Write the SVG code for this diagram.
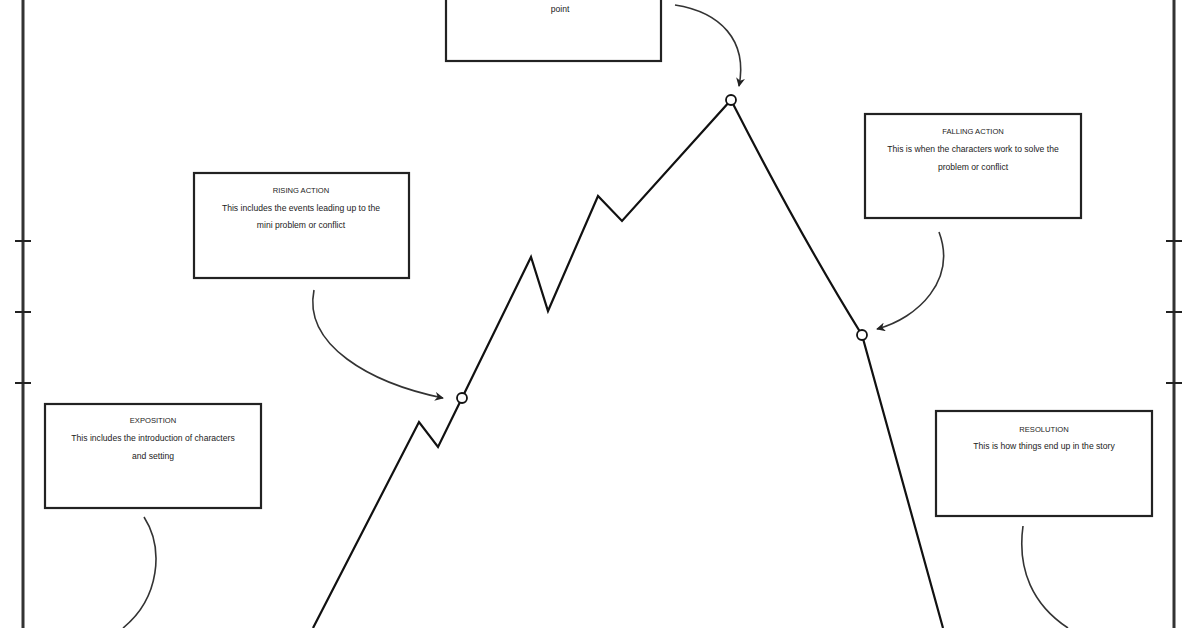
<svg xmlns="http://www.w3.org/2000/svg" width="1196" height="628" viewBox="0 0 1196 628">
<style>
.box{fill:#fff;stroke:#222;stroke-width:2.2}
.t{font-family:"Liberation Sans",Arial,sans-serif;font-size:8.6px;fill:#222;text-anchor:middle}
.h{font-family:"Liberation Sans",Arial,sans-serif;font-size:7.6px;fill:#222;text-anchor:middle}
.axis{stroke:#333;stroke-width:3;fill:none}
.tick{stroke:#222;stroke-width:2}
.plot{fill:none;stroke:#111;stroke-width:2.2;stroke-linejoin:miter}
.pt{fill:#fff;stroke:#111;stroke-width:1.8}
.con{fill:none;stroke:#333;stroke-width:1.6}
</style>
<defs>
<marker id="ah" viewBox="0 0 10 10" refX="9" refY="5" markerWidth="9" markerHeight="9" orient="auto" markerUnits="userSpaceOnUse">
<path d="M0,0 L10,5 L0,10 L3,5 Z" fill="#222"/>
</marker>
</defs>
<rect width="1196" height="628" fill="#fff"/>
<g id="axes">
<line class="axis" x1="23" y1="0" x2="23" y2="628"/>
<line class="axis" x1="1174" y1="0" x2="1174" y2="628"/>
<line class="tick" x1="15" y1="241" x2="31" y2="241"/>
<line class="tick" x1="15" y1="312" x2="31" y2="312"/>
<line class="tick" x1="15" y1="383" x2="31" y2="383"/>
<line class="tick" x1="1166" y1="241" x2="1182" y2="241"/>
<line class="tick" x1="1166" y1="312" x2="1182" y2="312"/>
<line class="tick" x1="1166" y1="383" x2="1182" y2="383"/>
</g>
<g id="plot-line">
<path class="plot" d="M313,628 L419,422 L438,447 L462,398 L531,257 L548,311 L598,196 L622,221 L731,100 Q800,235 862,335 L943,628"/>
</g>
<g id="points">
<circle class="pt" cx="731" cy="100" r="5"/>
<circle class="pt" cx="462" cy="398" r="5"/>
<circle class="pt" cx="862" cy="335" r="5"/>
</g>
<g id="connectors">
<path class="con" d="M144,517 C164,548 160,598 123,628"/>
<path class="con" d="M314,290 C303,345 370,383 443,398" marker-end="url(#ah)"/>
<path class="con" d="M939,232 C957,280 918,318 877,329" marker-end="url(#ah)"/>
<path class="con" d="M675,5 C720,12 748,40 739,86" marker-end="url(#ah)"/>
<path class="con" d="M1023,526 C1017,570 1033,605 1068,628"/>
</g>
<g id="climax">
<rect class="box" x="446" y="-10" width="215" height="71"/>
<text class="t" x="560" y="12">point</text>
</g>
<g id="rising-action">
<rect class="box" x="194" y="173" width="215" height="105"/>
<text class="h" x="301" y="193">RISING ACTION</text>
<text class="t" x="301" y="211">This includes the events leading up to the</text>
<text class="t" x="301" y="228">mini problem or conflict</text>
</g>
<g id="falling-action">
<rect class="box" x="865" y="114" width="216" height="104"/>
<text class="h" x="973" y="134">FALLING ACTION</text>
<text class="t" x="973" y="152">This is when the characters work to solve the</text>
<text class="t" x="973" y="170">problem or conflict</text>
</g>
<g id="exposition">
<rect class="box" x="45" y="404" width="216" height="104"/>
<text class="h" x="153" y="423">EXPOSITION</text>
<text class="t" x="153" y="441">This includes the introduction of characters</text>
<text class="t" x="153" y="459">and setting</text>
</g>
<g id="resolution">
<rect class="box" x="936" y="411" width="216" height="105"/>
<text class="h" x="1044" y="432">RESOLUTION</text>
<text class="t" x="1044" y="449">This is how things end up in the story</text>
</g>
</svg>
